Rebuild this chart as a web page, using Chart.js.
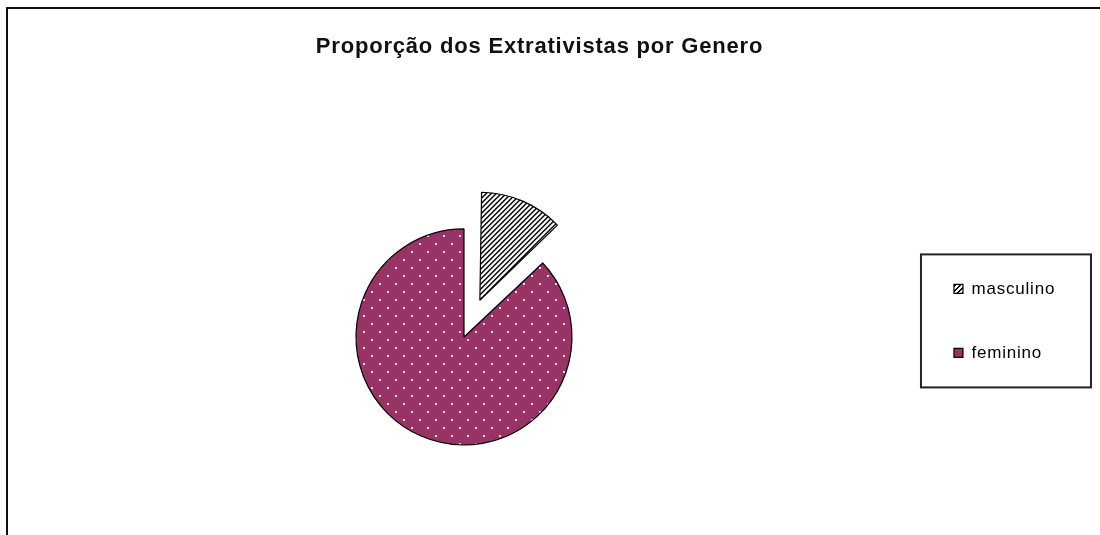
<!DOCTYPE html>
<html>
<head>
<meta charset="utf-8">
<script src="https://cdn.jsdelivr.net/npm/chart.js@4.4.0/dist/chart.umd.min.js"></script>
<style>
    html, body { margin: 0; padding: 0; background: #fff; }
    #wrap { width: 1100px; height: 535px; position: relative; }
</style>
</head>
<body>
<div id="wrap"><canvas id="myChart"></canvas></div>
<script>
const categories = ['masculino', 'feminino'];
const values = [13, 87];
const explode = [160, 0]; // chart.js moves an arc by offset / 4
const chartTitle = 'Proporção dos Extrativistas por Genero';

const canvas = document.getElementById('myChart');
const ctx = canvas.getContext('2d');

// diagonal hatch, black on white
function hatchPattern() {
    const c = document.createElement('canvas');
    c.width = 5;
    c.height = 5;
    const g = c.getContext('2d');
    g.fillStyle = '#fff';
    g.fillRect(0, 0, 5, 5);
    g.fillStyle = '#000';
    for (let i = 0; i < 5; i++) {
        g.fillRect(i, 4 - i, 1, 1);
        g.fillRect((i + 1) % 5, 4 - i, 1, 1);
    }
    return ctx.createPattern(c, 'repeat');
}

// plum with small light dots
function dotPattern() {
    const c = document.createElement('canvas');
    c.width = 16;
    c.height = 16;
    const g = c.getContext('2d');
    g.fillStyle = '#993366';
    g.fillRect(0, 0, 16, 16);
    g.fillStyle = '#f3dde8';
    g.fillRect(3, 3, 2, 2);
    g.fillRect(11, 11, 2, 2);
    return ctx.createPattern(c, 'repeat');
}

const pageFrame = {
    id: 'pageFrame',
    beforeDraw(chart) {
        const c = chart.ctx;
        c.save();
        c.strokeStyle = '#111';
        c.lineWidth = 2;
        c.beginPath();
        c.moveTo(chart.width, 8);
        c.lineTo(7, 8);
        c.lineTo(7, chart.height);
        c.stroke();
        c.restore();
        c.letterSpacing = '0.8px';
    },
    afterDraw(chart) {
        chart.ctx.letterSpacing = '0px';
    }
};

// the exploded slice keeps the same radius as the rest of the pie
const keepRadius = {
    id: 'keepRadius',
    afterDatasetsUpdate(chart) {
        chart.getDatasetMeta(0).data.forEach(arc => {
            const off = (arc.options.offset || 0) / 4;
            const fix = 1 - Math.sin(Math.min(Math.PI, arc.circumference));
            arc.outerRadius -= off * fix;
        });
    }
};

const legendFrame = {
    id: 'legendFrame',
    afterDraw(chart) {
        const boxes = chart.legend.legendHitBoxes;
        if (!boxes || !boxes.length) return;
        const first = boxes[0];
        const last = boxes[boxes.length - 1];
        const c = chart.ctx;
        c.save();
        c.strokeStyle = '#222';
        c.lineWidth = 2;
        c.strokeRect(first.left - 33, first.top - 26, 170, last.top + last.height - first.top + 52);
        c.restore();
    }
};

Chart.defaults.font.family = "'Liberation Sans', Arial, sans-serif";
Chart.defaults.color = '#000';

const config = {
    type: 'pie',
    data: {
        labels: categories,
        datasets: [
            {
                data: values,
                backgroundColor: [hatchPattern(), dotPattern()],
                borderColor: '#000',
                borderWidth: 1.2,
                offset: explode,
                hoverOffset: 0,
                clip: false,
            }
        ]
    },
    options: {
        responsive: true,
        maintainAspectRatio: false,
        animation: false,
        events: [],
        radius: 108,
        layout: {
            padding: { left: 21, right: 42, top: 0, bottom: 94.5 }
        },
        plugins: {
            title: {
                display: true,
                text: chartTitle,
                color: '#111',
                font: { size: 22, weight: 'bold' },
                padding: { top: 34, bottom: 173 }
            },
            legend: {
                position: 'right',
                align: 'start',
                fullSize: false,
                labels: {
                    boxWidth: 9,
                    boxHeight: 9,
                    padding: 47,
                    color: '#000',
                    font: { size: 17 }
                }
            },
            tooltip: { enabled: false }
        }
    },
    plugins: [pageFrame, keepRadius, legendFrame]
};

const grafico = new Chart(canvas, config);
</script>
</body>
</html>
